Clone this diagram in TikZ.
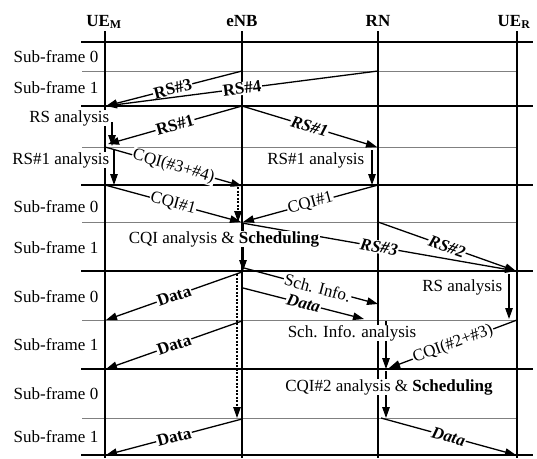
\documentclass[tikz,border=0pt]{standalone}
\usepackage{fontspec}
\setmainfont{Liberation Serif}
\usetikzlibrary{arrows.meta}
\begin{document}
\begin{tikzpicture}[x=1pt,y=-1pt,font=\fontsize{17}{20}\selectfont]
\tikzset{
  life/.style={line width=1.4pt},
  hthick/.style={line width=2.2pt},
  hthin/.style={line width=0.7pt, black!50},
  msg/.style={line width=1.3pt, -{Triangle[length=11pt,width=7.5pt]}},
  dmsg/.style={msg, dash pattern=on 2pt off 1.5pt},
  lbl/.style={fill=white, inner sep=0.8pt, sloped},
  blbl/.style={lbl, font=\fontsize{17}{20}\selectfont\bfseries},
  bilbl/.style={lbl, font=\fontsize{17}{20}\selectfont\bfseries\itshape},
  ana/.style={fill=white, inner sep=0.6pt},
  hdr/.style={font=\fontsize{17}{20}\selectfont\bfseries, anchor=base},
}
\useasboundingbox (0,0) rectangle (537,458);
% headers
\node[hdr] (hUM) at (104,26) {UE\textsubscript{M}};
\node[hdr] (hEN) at (242,26) {eNB};
\node[hdr] (hRN) at (378,26) {RN};
\node[hdr] (hUR) at (514,26) {UE\textsubscript{R}};
% horizontal grid
\foreach \y in {42,106,185,271,369,455} \draw[hthick] (81,\y) -- (533,\y);
\foreach \y in {71,147,222,320,418} \draw[hthin] (82,\y) -- (517,\y);
% lifelines
\coordinate (UMt) at (105,31); \coordinate (UMb) at (105,458);
\coordinate (ENt) at (242,31); \coordinate (ENb) at (242,458);
\coordinate (RNt) at (378,31); \coordinate (RNb) at (378,458);
\coordinate (URt) at (517,31); \coordinate (URb) at (517,458);
\draw[life] (UMt) -- (UMb);
\draw[life] (ENt) -- (ENb);
\draw[life] (RNt) -- (RNb);
\draw[life] (URt) -- (URb);
% sub-frame labels
\node (s1) at (56,57) {Sub-frame 0};
\node (s2) at (56,88) {Sub-frame 1};
\node (s3) at (56,207) {Sub-frame 0};
\node (s4) at (56,248) {Sub-frame 1};
\node (s5) at (56,297) {Sub-frame 0};
\node (s6) at (56,345) {Sub-frame 1};
\node (s7) at (56,394) {Sub-frame 0};
\node (s8) at (56,437) {Sub-frame 1};
% coordinates of message ends
\coordinate (e71) at (242,71);
\coordinate (r71) at (378,71);
\coordinate (m106) at (106,106);
\coordinate (e106) at (242,106);
\coordinate (m144) at (108,144);
\coordinate (r147) at (377,147);
\coordinate (v1a) at (112,122); \coordinate (v1b) at (112,146);
\coordinate (v2a) at (114,150); \coordinate (v2b) at (114,185);
\coordinate (v3a) at (372,150); \coordinate (v3b) at (372,185);
\coordinate (m147) at (105,147);
\coordinate (e185) at (242,186);
\coordinate (d1a) at (238,187); \coordinate (d1b) at (238,222);
\coordinate (m185) at (105,185);
\coordinate (r185) at (378,185);
\coordinate (e222a) at (241,222);
\coordinate (e222b) at (243,222);
\coordinate (v4a) at (243,224); \coordinate (v4b) at (243,271);
\coordinate (e222) at (242,223);
\coordinate (r222) at (378,222);
\coordinate (u271) at (516,271);
\coordinate (e271) at (242,272);
\coordinate (m320) at (106,320);
\coordinate (e268) at (244,268);
\coordinate (r304) at (378,304);
\coordinate (e288) at (243,288);
\coordinate (r319) at (364,319);
\coordinate (d2a) at (237,274); \coordinate (d2b) at (237,418);
\coordinate (v5a) at (509,274); \coordinate (v5b) at (509,319);
\coordinate (e320) at (242,321);
\coordinate (m369) at (106,369);
\coordinate (v6a) at (386,321); \coordinate (v6b) at (386,369);
\coordinate (u320) at (517,320);
\coordinate (r368) at (389,368);
\coordinate (v7a) at (386,371); \coordinate (v7b) at (386,418);
\coordinate (r418) at (381,418);
\coordinate (u455) at (516,455);
\coordinate (e418) at (242,419);
\coordinate (m455) at (106,455);
% messages
\draw[msg] (e71) -- node[blbl,pos=.51] (l1) {RS\#3} (m106);
\draw[msg] (r71) -- node[blbl,pos=.5] (l2) {RS\#4} (m106);
\draw[msg] (e106) -- node[blbl,pos=.5] (l3) {RS\#1} (m144);
\draw[msg] (e106) -- node[bilbl,pos=.5] (l4) {RS\#1} (r147);
\draw[msg] (v1a) -- (v1b);
\draw[msg] (v2a) -- (v2b);
\draw[msg] (v3a) -- (v3b);
\draw[msg] (m147) -- node[lbl,pos=.5] (l5) {CQI(\#3+\#4)} (e185);
\draw[dmsg] (d1a) -- (d1b);
\draw[msg] (m185) -- node[lbl,pos=.5] (l6) {CQI\#1} (e222a);
\draw[msg] (r185) -- node[lbl,pos=.5] (l7) {CQI\#1} (e222b);
\draw[msg] (v4a) -- (v4b);
\draw[msg] (e222) -- node[bilbl,pos=.5] (l8) {RS\#3} (u271);
\draw[msg] (r222) -- node[bilbl,pos=.5] (l9) {RS\#2} (u271);
\draw[msg] (e271) -- node[blbl,pos=.5] (l10) {Data} (m320);
\draw[msg] (e268) -- node[lbl,pos=.55] (l11) {Sch. Info.} (r304);
\draw[msg] (e288) -- node[bilbl,pos=.5] (l12) {Data} (r319);
\draw[dmsg] (d2a) -- (d2b);
\draw[msg] (v5a) -- (v5b);
\draw[msg] (e320) -- node[blbl,pos=.5] (l13) {Data} (m369);
\draw[msg] (v6a) -- (v6b);
\draw[msg] (u320) -- node[lbl,pos=.5] (l14) {CQI(\#2+\#3)} (r368);
\draw[msg] (v7a) -- (v7b);
\draw[msg] (r418) -- node[bilbl,pos=.5] (l15) {Data} (u455);
\draw[msg] (e418) -- node[blbl,pos=.5] (l16) {Data} (m455);
% analysis texts
\node[ana,anchor=east] (t1) at (110,118) {RS analysis};
\node[ana,anchor=east] (t2) at (110,160) {RS\#1 analysis};
\node[ana,anchor=east] (t3) at (365,160) {RS\#1 analysis};
\node[ana] (t4) at (224,239) {CQI analysis \& \textbf{Scheduling}};
\node[ana,anchor=east] (t5) at (503,287) {RS analysis};
\node[ana] (t6) at (352,333) {Sch. Info. analysis};
\node[ana] (t7) at (389,387) {CQI\#2 analysis \& \textbf{Scheduling}};
\end{tikzpicture}
\end{document}
